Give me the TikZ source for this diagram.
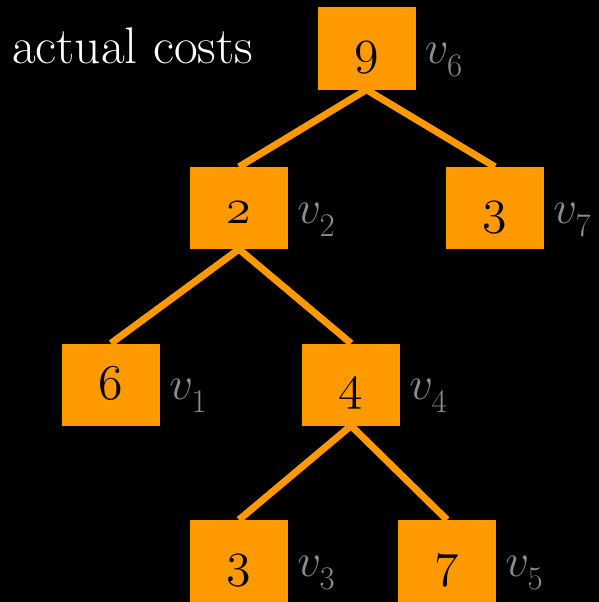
\RequirePackage{fix-cm}
\documentclass[tikz,border=0pt]{standalone}
\providecommand\legacyoldstylenums{\oldstylenums}
\newcommand\vsub[1]{$v_{\lower 6pt\hbox{$\scriptstyle #1$}}$}
\definecolor{boxorange}{RGB}{255,153,0}
\definecolor{labgray}{RGB}{140,140,140}
\begin{document}
\begin{tikzpicture}[x=1pt,y=-1pt,
  costbox/.style={fill=boxorange,draw=none,inner sep=0pt,minimum width=98pt,minimum height=82pt,
    text height=34pt,text depth=4pt,text=black,font=\fontsize{50}{60}\selectfont},
  vlabel/.style={anchor=base west,inner sep=0pt,text=labgray,font=\fontsize{47}{56}\selectfont},
  treeedge/.style={draw=boxorange,line width=7pt}]
\fill[black] (0,0) rectangle (599,602);
\useasboundingbox (0,0) rectangle (599,602);
\node[anchor=base west,inner sep=0pt,text=white,font=\fontsize{51.5}{60}\selectfont] (cap) at (12,63.5) {actual costs};
\coordinate (c6) at (366.5,48.5);
\coordinate (c2) at (239,208);
\coordinate (c7) at (495,208);
\coordinate (c1) at (111,384.5);
\coordinate (c4) at (351,384.5);
\coordinate (c3) at (239,561);
\coordinate (c5) at (447,561);
\node[costbox] (v6) at (c6) {\legacyoldstylenums{9}};
\node[costbox] (v2) at (c2) {\legacyoldstylenums{2}};
\node[costbox] (v7) at (c7) {\legacyoldstylenums{3}};
\node[costbox] (v1) at (c1) {\legacyoldstylenums{6}};
\node[costbox] (v4) at (c4) {\legacyoldstylenums{4}};
\node[costbox] (v3) at (c3) {\legacyoldstylenums{3}};
\node[costbox] (v5) at (c5) {\legacyoldstylenums{7}};
\draw[treeedge] (v6.south) -- (v2.north);
\draw[treeedge] (v6.south) -- (v7.north);
\draw[treeedge] (v2.south) -- (v1.north);
\draw[treeedge] (v2.south) -- (v4.north);
\draw[treeedge] (v4.south) -- (v3.north);
\draw[treeedge] (v4.south) -- (v5.north);
\node[vlabel] (l6) at ([xshift=9pt]v6.base east) {\vsub{6}};
\node[vlabel] (l2) at ([xshift=9pt]v2.base east) {\vsub{2}};
\node[vlabel] (l7) at ([xshift=9pt]v7.base east) {\vsub{7}};
\node[vlabel] (l1) at ([xshift=9pt]v1.base east) {\vsub{1}};
\node[vlabel] (l4) at ([xshift=9pt]v4.base east) {\vsub{4}};
\node[vlabel] (l3) at ([xshift=9pt]v3.base east) {\vsub{3}};
\node[vlabel] (l5) at ([xshift=9pt]v5.base east) {\vsub{5}};
\end{tikzpicture}
\end{document}
